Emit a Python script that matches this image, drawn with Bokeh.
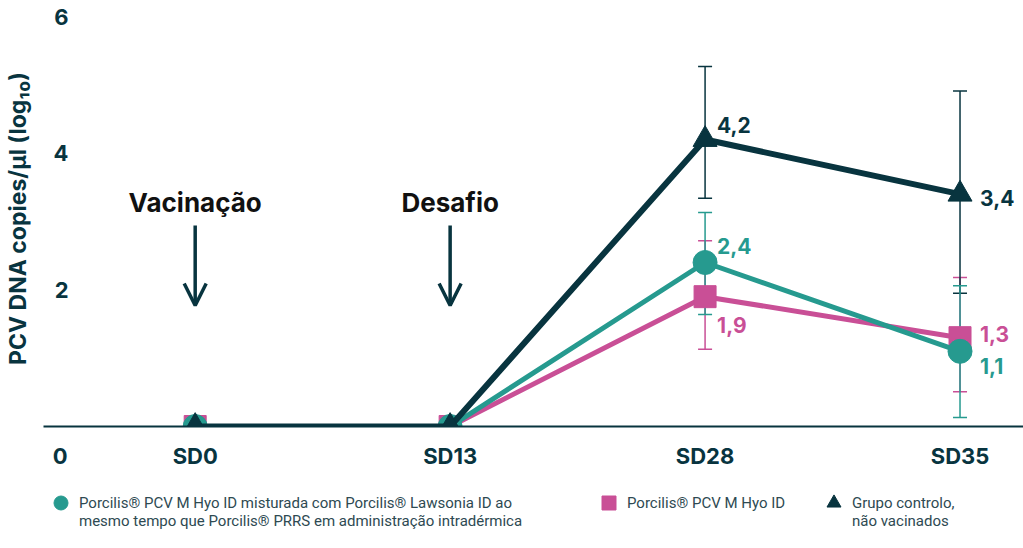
from bokeh.plotting import figure
from bokeh.layouts import column
from bokeh.models import (FixedTicker, Label, Arrow, OpenHead, Legend, LegendItem,
                          ColumnDataSource, Whisker, TeeHead)
from bokeh.embed import file_html
from bokeh.resources import INLINE
from bokeh.core.properties import value

# ---------------- data ----------------
categories = ["SD0", "SD13", "SD28", "SD35"]
x_pos = [0, 1, 2, 3]
y_ticks = [2, 4, 6]
y_zero_label = "0"

combo_mean = [0, 0, 2.4, 1.1]
combo_upper = [0, 0, 3.13, 2.06]
combo_lower = [0, 0, 1.64, 0.13]
combo_text = ["", "", "2,4", "1,1"]

pcv_mean = [0, 0, 1.9, 1.3]
pcv_upper = [0, 0, 2.72, 2.18]
pcv_lower = [0, 0, 1.13, 0.51]
pcv_text = ["", "", "1,9", "1,3"]

ctrl_mean = [0, 0, 4.2, 3.4]
ctrl_upper = [0, 0, 5.27, 4.91]
ctrl_lower = [0, 0, 3.34, 1.95]
ctrl_text = ["", "", "4,2", "3,4"]

combo_name = ["Porcilis® PCV M Hyo ID misturada com Porcilis® Lawsonia ID ao",
              "mesmo tempo que Porcilis® PRRS em administração intradérmica"]
pcv_name = ["Porcilis® PCV M Hyo ID"]
ctrl_name = ["Grupo controlo,", "não vacinados"]

events = ["Vacinação", "Desafio"]
event_x = [0, 1]

# ---------------- style ----------------
DARK = "#08343f"
TEAL = "#269a8f"
PINK = "#c94f96"
FONT = "Inter"

p = figure(width=1023, height=478,
           x_range=(-0.595, 3.249), y_range=(0, 6.088),
           output_backend="svg", toolbar_location=None,
           min_border_top=10, min_border_left=40, min_border_right=0, min_border_bottom=52)
p.outline_line_color = None
p.grid.visible = False

# x axis (the y-axis "0" label sits in the x label row in the original)
zero_x = -0.53
xa = p.xaxis[0]
xa.ticker = FixedTicker(ticks=[zero_x] + x_pos)
overrides = {x: c for x, c in zip(x_pos, categories)}
overrides[zero_x] = y_zero_label
xa.major_label_overrides = overrides
xa.axis_line_color = DARK
xa.axis_line_width = 2
xa.major_tick_line_color = None
xa.minor_tick_line_color = None
xa.major_label_standoff = 10
xa.major_label_text_font = FONT
xa.major_label_text_font_style = "bold"
xa.major_label_text_font_size = "22px"
xa.major_label_text_color = DARK

# y axis
ya = p.yaxis[0]
ya.ticker = FixedTicker(ticks=y_ticks)
ya.axis_line_color = None
ya.major_tick_line_color = None
ya.minor_tick_line_color = None
ya.major_tick_out = 0
ya.major_label_standoff = -25
ya.major_label_text_font = FONT
ya.major_label_text_font_style = "bold"
ya.major_label_text_font_size = "22px"
ya.major_label_text_color = DARK
ya.axis_label = "PCV DNA copies/µl (log₁₀)"
ya.axis_label_standoff = 19
ya.axis_label_text_font = FONT
ya.axis_label_text_font_style = "bold"
ya.axis_label_text_font_size = "23px"
ya.axis_label_text_color = DARK

# event annotations
for name, ex in zip(events, event_x):
    p.add_layout(Label(x=ex, y=3.28, text=name, text_align="center", text_baseline="middle",
                       text_font=FONT, text_font_style="bold", text_font_size="26px",
                       text_color="#111111"))
    p.add_layout(Arrow(end=OpenHead(size=22, line_width=3.5, line_color=DARK),
                       x_start=ex, y_start=2.94, x_end=ex, y_end=1.77,
                       line_width=3.5, line_color=DARK))

series = [
    ("pcv", pcv_mean, pcv_upper, pcv_lower, pcv_text, PINK, "square", 22, 5, [12, 20], [28, -4]),
    ("combo", combo_mean, combo_upper, combo_lower, combo_text, TEAL, "circle", 24, 5, [12, 20], [-17, 15]),
    ("ctrl", ctrl_mean, ctrl_upper, ctrl_lower, ctrl_text, DARK, "triangle", 24, 6, [12, 20], [-15, 4]),
]

# whiskers (only where there is spread)
for key, mean, up, lo, txt, col, mk, sz, lw, xo, yo in [series[0], series[2], series[1]]:
    src = ColumnDataSource(dict(x=x_pos[2:], upper=up[2:], lower=lo[2:]))
    w = Whisker(source=src, base="x", upper="upper", lower="lower", dimension="height",
                line_color=col, line_width=1.5, level="underlay",
                upper_head=TeeHead(size=14, line_color=col, line_width=1.5),
                lower_head=TeeHead(size=14, line_color=col, line_width=1.5))
    p.add_layout(w)

for key, mean, up, lo, txt, col, mk, sz, lw, xo, yo in series:
    src = ColumnDataSource(dict(x=x_pos, y=mean))
    p.line("x", "y", source=src, line_color=col, line_width=lw)
    p.scatter("x", "y", source=src, marker=mk, size=sz, fill_color=col, line_color=col)
    tsrc = ColumnDataSource(dict(x=x_pos[2:], y=mean[2:], t=txt[2:], xo=xo, yo=yo))
    p.text("x", "y", text="t", source=tsrc, x_offset="xo", y_offset="yo",
           text_align="left", text_baseline="middle", text_font=value(FONT),
           text_font_style="bold", text_font_size="21px", text_color=col)

# ---------------- legend strip ----------------
# the strip shows only the legend; its range is set away from the data so the
# series renderers used as legend keys stay out of view
leg = figure(width=1023, height=70, x_range=(100, 101), y_range=(100, 101),
             x_axis_type=None, y_axis_type=None,
             output_backend="svg", toolbar_location=None, min_border=0)
leg.grid.visible = False
leg.outline_line_color = None

legend_specs = [
    (combo_name, combo_mean, "circle", TEAL, 0),
    (pcv_name, pcv_mean, "square", PINK, 548),
    (ctrl_name, ctrl_mean, "triangle", DARK, 773),
]
line_y = [28, 10]
for names, mean, mk, col, lx in legend_specs:
    key = leg.scatter(x=x_pos, y=mean, marker=mk, size=14, fill_color=col, line_color=col)
    blank = leg.scatter(x=x_pos, y=mean, marker=mk, size=14, fill_alpha=0, line_alpha=0)
    for i, (txt, ly) in enumerate(zip(names, line_y)):
        lg = Legend(items=[LegendItem(label=txt, renderers=[key if i == 0 else blank])],
                    location=(lx, ly),
                    glyph_width=35, glyph_height=35, label_standoff=1,
                    padding=0, margin=0, border_line_color=None, background_fill_alpha=0,
                    label_text_font="Roboto", label_text_font_size="15px",
                    label_text_color="#2e4a52")
        leg.add_layout(lg)

open("out.html", "w").write(file_html(column(p, leg), INLINE))
